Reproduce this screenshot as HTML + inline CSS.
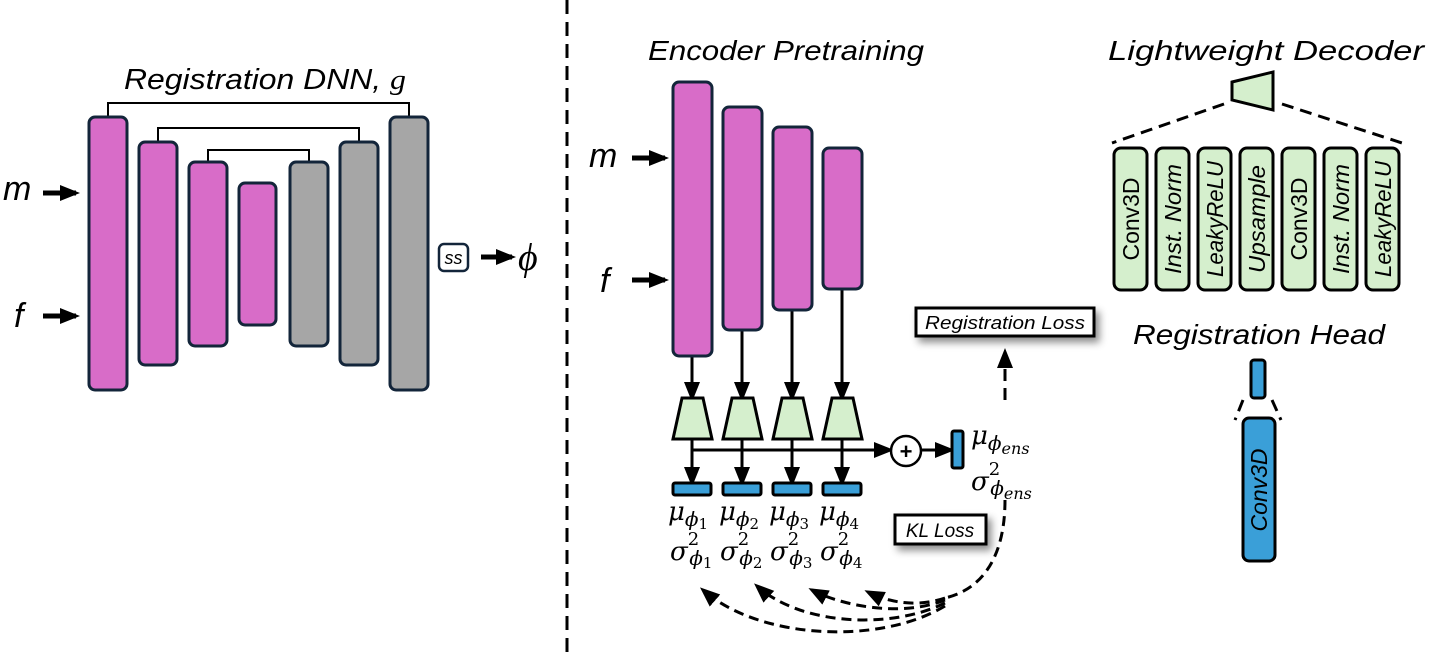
<!DOCTYPE html>
<html><head><meta charset="utf-8"><style>html,body{margin:0;padding:0;background:#fff}svg{display:block}</style></head>
<body>
<svg width="1435" height="657" viewBox="0 0 1435 657" xmlns="http://www.w3.org/2000/svg" font-family="Liberation Sans, sans-serif">
<defs>
<marker id="ahb" markerWidth="20" markerHeight="20" refX="16" refY="10" orient="auto" markerUnits="userSpaceOnUse" viewBox="0 0 20 20"><path d="M0,2 L20,10 L0,18 z" fill="#000"/></marker>
<filter id="sh" x="-20%" y="-30%" width="150%" height="200%"><feDropShadow dx="4" dy="5" stdDeviation="4" flood-color="#000" flood-opacity="0.45"/></filter>
</defs>

<!-- LEFT -->
<text x="124" y="89" font-size="29" font-style="italic" textLength="282" lengthAdjust="spacingAndGlyphs">Registration DNN, <tspan font-family="Liberation Serif, serif">g</tspan></text>
<g fill="none" stroke="#000" stroke-width="2">
<path d="M108,117 V103 H409 V117"/>
<path d="M158,142 V128 H359 V142"/>
<path d="M208,162 V150 H309 V162"/>
</g>
<g stroke="#13253a" stroke-width="3">
<rect x="89" y="117" width="38" height="273" rx="6" fill="#d86cc8"/>
<rect x="139" y="142" width="38" height="223" rx="6" fill="#d86cc8"/>
<rect x="189" y="162" width="38" height="184" rx="6" fill="#d86cc8"/>
<rect x="239" y="183" width="37" height="142" rx="6" fill="#d86cc8"/>
<rect x="290" y="162" width="38" height="184" rx="6" fill="#a6a6a6"/>
<rect x="340" y="142" width="38" height="223" rx="6" fill="#a6a6a6"/>
<rect x="390" y="117" width="38" height="273" rx="6" fill="#a6a6a6"/>
</g>
<text x="3" y="200" font-size="34" font-style="italic">m</text>
<line x1="43" y1="193" x2="76" y2="193" stroke="#000" stroke-width="5" marker-end="url(#ahb)"/>
<text x="14" y="327" font-size="34" font-style="italic">f</text>
<line x1="43" y1="316" x2="76" y2="316" stroke="#000" stroke-width="5" marker-end="url(#ahb)"/>
<rect x="439" y="244" width="29" height="27" rx="5" fill="#fff" stroke="#13253a" stroke-width="2.5"/>
<text x="453.5" y="264" font-size="18" font-style="italic" text-anchor="middle">ss</text>
<line x1="481" y1="257" x2="512" y2="257" stroke="#000" stroke-width="5" marker-end="url(#ahb)"/>
<text x="518" y="270" font-size="38" font-style="italic" font-family="Liberation Serif, serif">ϕ</text>

<line x1="567" y1="0" x2="567" y2="657" stroke="#000" stroke-width="3" stroke-dasharray="14,8"/>

<!-- MIDDLE -->
<text x="648" y="60" font-size="28" font-style="italic" textLength="276" lengthAdjust="spacingAndGlyphs">Encoder Pretraining</text>
<g stroke="#000" stroke-width="3">
<line x1="692" y1="356" x2="692" y2="398" marker-end="url(#ahb)"/>
<line x1="742" y1="330" x2="742" y2="398" marker-end="url(#ahb)"/>
<line x1="792" y1="310" x2="792" y2="398" marker-end="url(#ahb)"/>
<line x1="842" y1="289" x2="842" y2="398" marker-end="url(#ahb)"/>
</g>
<g stroke="#13253a" stroke-width="3" fill="#d86cc8">
<rect x="673" y="82" width="39" height="274" rx="6"/>
<rect x="723" y="107" width="39" height="223" rx="6"/>
<rect x="773" y="127" width="39" height="183" rx="6"/>
<rect x="823" y="148" width="39" height="141" rx="6"/>
</g>
<text x="589" y="167" font-size="34" font-style="italic">m</text>
<line x1="632" y1="158" x2="665" y2="158" stroke="#000" stroke-width="5" marker-end="url(#ahb)"/>
<text x="600" y="292" font-size="34" font-style="italic">f</text>
<line x1="632" y1="280" x2="665" y2="280" stroke="#000" stroke-width="5" marker-end="url(#ahb)"/>

<g stroke="#000" stroke-width="3" fill="#d5efcd">
<path d="M682,398 H703 L712,439 H673 Z"/>
<path d="M732,398 H753 L762,439 H723 Z"/>
<path d="M782,398 H803 L812,439 H773 Z"/>
<path d="M832,398 H853 L862,439 H823 Z"/>
</g>
<g stroke="#000" stroke-width="3">
<line x1="692" y1="450" x2="890" y2="450" marker-end="url(#ahb)"/>
<line x1="692" y1="439" x2="692" y2="483" marker-end="url(#ahb)"/>
<line x1="742" y1="439" x2="742" y2="483" marker-end="url(#ahb)"/>
<line x1="792" y1="439" x2="792" y2="483" marker-end="url(#ahb)"/>
<line x1="842" y1="439" x2="842" y2="483" marker-end="url(#ahb)"/>
<line x1="922" y1="450" x2="951" y2="450" marker-end="url(#ahb)"/>
</g>
<circle cx="906" cy="451" r="15" fill="#fff" stroke="#000" stroke-width="2.5"/>
<text x="906" y="459" font-size="22" font-weight="bold" text-anchor="middle">+</text>
<rect x="952" y="431" width="11" height="37" rx="2" fill="#3a9fd8" stroke="#000" stroke-width="3"/>
<g fill="#3a9fd8" stroke="#000" stroke-width="3">
<rect x="673" y="483" width="38" height="12" rx="2"/>
<rect x="723" y="483" width="38" height="12" rx="2"/>
<rect x="773" y="483" width="38" height="12" rx="2"/>
<rect x="823" y="483" width="38" height="12" rx="2"/>
</g>
<g font-family="DejaVu Serif, Liberation Serif, serif" font-style="italic" font-size="26">
<text x="971" y="444">μ<tspan font-size="20" dy="6">ϕ</tspan><tspan font-size="16" dy="4">ens</tspan></text>
<text x="971" y="490">σ<tspan font-size="18" dy="-15" font-style="normal">2</tspan><tspan font-size="20" dy="20" dx="-10">ϕ</tspan><tspan font-size="16" dy="4">ens</tspan></text>
<text x="668" y="520">μ<tspan font-size="20" dy="6">ϕ</tspan><tspan font-size="15" dy="3" font-style="normal">1</tspan></text>
<text x="719" y="520">μ<tspan font-size="20" dy="6">ϕ</tspan><tspan font-size="15" dy="3" font-style="normal">2</tspan></text>
<text x="769" y="520">μ<tspan font-size="20" dy="6">ϕ</tspan><tspan font-size="15" dy="3" font-style="normal">3</tspan></text>
<text x="819" y="520">μ<tspan font-size="20" dy="6">ϕ</tspan><tspan font-size="15" dy="3" font-style="normal">4</tspan></text>
<text x="670" y="560">σ<tspan font-size="18" dy="-15" font-style="normal">2</tspan><tspan font-size="20" dy="20" dx="-10">ϕ</tspan><tspan font-size="15" dy="3" font-style="normal">1</tspan></text>
<text x="720" y="560">σ<tspan font-size="18" dy="-15" font-style="normal">2</tspan><tspan font-size="20" dy="20" dx="-10">ϕ</tspan><tspan font-size="15" dy="3" font-style="normal">2</tspan></text>
<text x="770" y="560">σ<tspan font-size="18" dy="-15" font-style="normal">2</tspan><tspan font-size="20" dy="20" dx="-10">ϕ</tspan><tspan font-size="15" dy="3" font-style="normal">3</tspan></text>
<text x="820" y="560">σ<tspan font-size="18" dy="-15" font-style="normal">2</tspan><tspan font-size="20" dy="20" dx="-10">ϕ</tspan><tspan font-size="15" dy="3" font-style="normal">4</tspan></text>
</g>

<rect x="916" y="308" width="178" height="28" fill="#fff" stroke="#000" stroke-width="3" filter="url(#sh)"/>
<text x="1005" y="329" font-size="18" font-style="italic" text-anchor="middle" textLength="160" lengthAdjust="spacingAndGlyphs">Registration Loss</text>
<line x1="1005" y1="400" x2="1005" y2="352" stroke="#000" stroke-width="3" stroke-dasharray="12,7" marker-end="url(#ahb)"/>
<rect x="895" y="515" width="91" height="29" fill="#fff" stroke="#000" stroke-width="3" filter="url(#sh)"/>
<text x="940" y="537" font-size="19" font-style="italic" text-anchor="middle">KL Loss</text>

<g fill="none" stroke="#000" stroke-width="3" stroke-dasharray="10,6">
<path d="M1005,500 C1005,560 980,590 945,598" />
<path d="M945,598 C910,610 880,598 868,592" marker-end="url(#ahb)"/>
<path d="M945,600 C900,618 840,605 812,590" marker-end="url(#ahb)"/>
<path d="M945,603 C890,630 800,625 757,586" marker-end="url(#ahb)"/>
<path d="M945,606 C880,645 760,640 703,590" marker-end="url(#ahb)"/>
</g>

<!-- RIGHT -->
<text x="1108" y="60" font-size="28" font-style="italic" textLength="316" lengthAdjust="spacingAndGlyphs">Lightweight Decoder</text>
<path d="M1232,82 L1273,72 L1273,110 L1232,100 Z" fill="#d5efcd" stroke="#000" stroke-width="3"/>
<g stroke="#000" stroke-width="3" stroke-dasharray="12,7">
<line x1="1224" y1="104" x2="1112" y2="143"/>
<line x1="1282" y1="104" x2="1402" y2="143"/>
<line x1="1243" y1="400" x2="1235" y2="420"/>
<line x1="1272" y1="400" x2="1281" y2="420"/>
</g>
<g fill="#d5efcd" stroke="#000" stroke-width="3">
<rect x="1114" y="148" width="33" height="142" rx="7"/>
<rect x="1156" y="148" width="33" height="142" rx="7"/>
<rect x="1198" y="148" width="33" height="142" rx="7"/>
<rect x="1240" y="148" width="33" height="142" rx="7"/>
<rect x="1282" y="148" width="33" height="142" rx="7"/>
<rect x="1324" y="148" width="33" height="142" rx="7"/>
<rect x="1366" y="148" width="33" height="142" rx="7"/>
</g>
<g font-size="23" text-anchor="middle" font-style="italic">
<text transform="translate(1139,219) rotate(-90)" font-style="normal">Conv3D</text>
<text transform="translate(1181,219) rotate(-90)" textLength="110" lengthAdjust="spacingAndGlyphs">Inst. Norm</text>
<text transform="translate(1223,219) rotate(-90)" textLength="116" lengthAdjust="spacingAndGlyphs">LeakyReLU</text>
<text transform="translate(1265,219) rotate(-90)" textLength="108" lengthAdjust="spacingAndGlyphs">Upsample</text>
<text transform="translate(1307,219) rotate(-90)" font-style="normal">Conv3D</text>
<text transform="translate(1349,219) rotate(-90)" textLength="110" lengthAdjust="spacingAndGlyphs">Inst. Norm</text>
<text transform="translate(1391,219) rotate(-90)" textLength="116" lengthAdjust="spacingAndGlyphs">LeakyReLU</text>
</g>
<text x="1133" y="344" font-size="28" font-style="italic" textLength="252" lengthAdjust="spacingAndGlyphs">Registration Head</text>
<rect x="1251" y="360" width="14" height="38" rx="3" fill="#3a9fd8" stroke="#000" stroke-width="3"/>
<rect x="1243" y="418" width="32" height="143" rx="6" fill="#3a9fd8" stroke="#000" stroke-width="3"/>
<text transform="translate(1267,490) rotate(-90)" font-size="23" font-style="italic" text-anchor="middle">Conv3D</text>
</svg>
</body></html>
